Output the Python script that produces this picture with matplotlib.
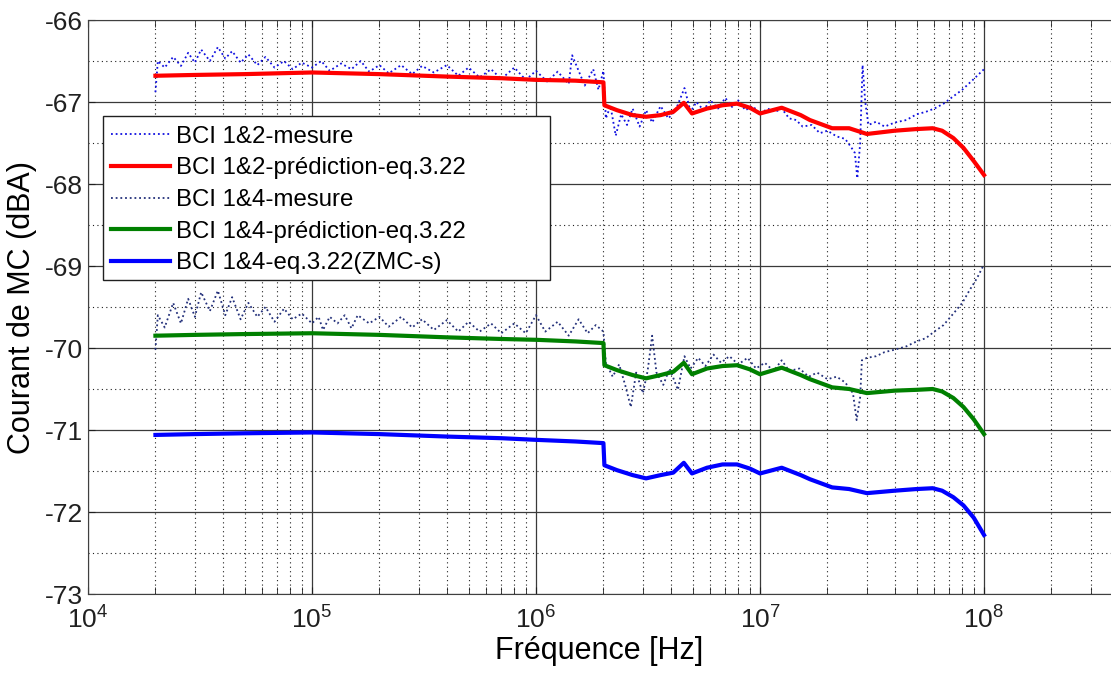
import matplotlib
matplotlib.use('Agg')
import matplotlib.pyplot as plt
from matplotlib.patches import Rectangle
from matplotlib.ticker import LogLocator, MultipleLocator, NullFormatter

plt.rcParams['font.family'] = ['Liberation Sans', 'DejaVu Sans']
plt.rcParams['mathtext.fontset'] = 'custom'
plt.rcParams['mathtext.rm'] = 'Liberation Sans'
plt.rcParams['axes.unicode_minus'] = False

# Measurement BCI 1&2 (Hz, dBA)
f_mes12 = [2.0e4, 2.05e4, 2.2e4, 2.4e4, 2.6e4, 2.8e4, 3.0e4, 3.2e4, 3.5e4, 3.8e4,
           4.1e4, 4.4e4, 4.8e4, 5.2e4, 5.7e4, 6.2e4, 6.8e4, 7.5e4, 8.2e4, 9.0e4,
           1.0e5, 1.1e5, 1.2e5, 1.35e5, 1.5e5, 1.65e5, 1.8e5, 2.0e5, 2.2e5, 2.5e5,
           2.8e5, 3.1e5, 3.5e5, 4.0e5, 4.5e5, 5.0e5, 5.6e5, 6.3e5, 7.0e5, 8.0e5,
           9.0e5, 1.0e6, 1.12e6, 1.25e6, 1.4e6, 1.45e6, 1.55e6, 1.65e6, 1.8e6, 1.9e6,
           2.0e6, 2.05e6, 2.15e6, 2.27e6, 2.4e6, 2.55e6, 2.7e6, 2.9e6, 3.1e6, 3.3e6,
           3.6e6, 3.9e6, 4.2e6, 4.6e6, 4.9e6, 5.2e6, 5.6e6, 6.0e6, 6.5e6, 7.0e6,
           7.5e6, 8.0e6, 8.6e6, 9.3e6, 1.0e7, 1.08e7, 1.17e7, 1.25e7, 1.35e7, 1.45e7,
           1.55e7, 1.7e7, 1.85e7, 2.0e7, 2.2e7, 2.4e7, 2.55e7, 2.65e7, 2.72e7, 2.8e7,
           2.87e7, 2.95e7, 3.05e7, 3.3e7, 3.6e7, 4.0e7, 4.5e7, 5.0e7, 5.5e7, 6.0e7,
           6.6e7, 7.3e7, 8.0e7, 9.0e7, 1.0e8]
v_mes12 = [-66.88, -66.50, -66.58, -66.45, -66.56, -66.40, -66.52, -66.36, -66.50, -66.33,
           -66.47, -66.38, -66.52, -66.42, -66.55, -66.45, -66.58, -66.50, -66.60, -66.52,
           -66.58, -66.50, -66.62, -66.53, -66.60, -66.50, -66.63, -66.55, -66.65, -66.55,
           -66.66, -66.56, -66.64, -66.55, -66.68, -66.58, -66.70, -66.60, -66.72, -66.58,
           -66.73, -66.62, -66.75, -66.63, -66.78, -66.43, -66.62, -66.80, -66.60, -66.85,
           -66.62, -67.20, -67.05, -67.41, -67.15, -67.28, -67.08, -67.30, -67.10, -67.25,
           -67.05, -67.20, -67.10, -66.83, -67.12, -67.00, -67.10, -66.98, -67.08, -66.95,
           -67.06, -66.98, -67.10, -67.05, -67.15, -67.08, -67.12, -67.08, -67.20, -67.22,
           -67.30, -67.28, -67.38, -67.35, -67.42, -67.45, -67.55, -67.62, -67.93, -67.50,
           -66.55, -67.00, -67.28, -67.24, -67.30, -67.25, -67.22, -67.15, -67.12, -67.08,
           -67.02, -66.93, -66.85, -66.72, -66.60]

# Measurement BCI 1&4
f_mes14 = [2.0e4, 2.05e4, 2.2e4, 2.4e4, 2.6e4, 2.8e4, 3.0e4, 3.2e4, 3.5e4, 3.8e4,
           4.1e4, 4.4e4, 4.8e4, 5.2e4, 5.7e4, 6.2e4, 6.8e4, 7.5e4, 8.2e4, 9.0e4,
           1.0e5, 1.07e5, 1.12e5, 1.2e5, 1.3e5, 1.4e5, 1.5e5, 1.6e5, 1.8e5, 2.0e5,
           2.2e5, 2.5e5, 2.8e5, 3.1e5, 3.5e5, 4.0e5, 4.5e5, 5.0e5, 5.6e5, 6.3e5,
           7.0e5, 8.0e5, 9.0e5, 1.0e6, 1.1e6, 1.25e6, 1.4e6, 1.55e6, 1.7e6, 1.85e6,
           2.0e6, 2.05e6, 2.2e6, 2.35e6, 2.5e6, 2.65e6, 2.8e6, 3.0e6, 3.15e6, 3.3e6,
           3.45e6, 3.7e6, 3.95e6, 4.3e6, 4.6e6, 4.9e6, 5.3e6, 5.7e6, 6.2e6, 6.7e6,
           7.3e6, 8.0e6, 8.8e6, 9.6e6, 1.05e7, 1.15e7, 1.25e7, 1.35e7, 1.5e7, 1.65e7,
           1.8e7, 2.0e7, 2.2e7, 2.4e7, 2.6e7, 2.7e7, 2.8e7, 2.85e7, 3.0e7, 3.3e7,
           3.6e7, 4.0e7, 4.5e7, 5.0e7, 5.5e7, 6.0e7, 6.6e7, 7.3e7, 8.0e7, 8.6e7,
           9.3e7, 1.0e8]
v_mes14 = [-70.02, -69.60, -69.75, -69.45, -69.70, -69.40, -69.62, -69.32, -69.55, -69.30,
           -69.60, -69.38, -69.65, -69.45, -69.62, -69.50, -69.68, -69.52, -69.65, -69.58,
           -69.70, -69.62, -69.78, -69.62, -69.70, -69.60, -69.76, -69.60, -69.70, -69.62,
           -69.74, -69.62, -69.75, -69.65, -69.78, -69.66, -69.80, -69.68, -69.80, -69.70,
           -69.82, -69.70, -69.82, -69.60, -69.80, -69.68, -69.85, -69.65, -69.82, -69.72,
           -69.80, -70.18, -70.35, -70.20, -70.45, -70.72, -70.30, -70.55, -70.28, -69.85,
           -70.30, -70.45, -70.25, -70.51, -70.10, -70.25, -70.12, -70.22, -70.08, -70.18,
           -70.10, -70.20, -70.12, -70.25, -70.18, -70.28, -70.15, -70.28, -70.25, -70.35,
           -70.30, -70.38, -70.35, -70.42, -70.55, -70.88, -70.60, -70.15, -70.12, -70.10,
           -70.05, -70.02, -69.98, -69.92, -69.88, -69.80, -69.72, -69.58, -69.45, -69.30,
           -69.15, -68.98]

# Predictions
f_pred = [2.0e4, 3.0e4, 5.0e4, 1.0e5, 2.0e5, 4.0e5, 7.0e5, 1.0e6, 1.5e6, 2.0e6,
          2.02e6, 2.3e6, 2.7e6, 3.1e6, 3.6e6, 4.1e6, 4.57e6, 4.97e6, 5.8e6, 6.8e6,
          7.9e6, 9.0e6, 1.0e7, 1.25e7, 1.52e7, 1.67e7, 2.1e7, 2.5e7, 3.0e7, 4.0e7,
          5.0e7, 5.9e7, 6.5e7, 7.3e7, 8.1e7, 9.0e7, 1.0e8]
v_pred12 = [-66.68, -66.67, -66.66, -66.64, -66.66, -66.69, -66.71, -66.73, -66.74, -66.76,
            -67.04, -67.10, -67.16, -67.18, -67.16, -67.12, -67.01, -67.14, -67.08, -67.04,
            -67.02, -67.07, -67.14, -67.07, -67.16, -67.22, -67.32, -67.32, -67.39, -67.35,
            -67.33, -67.32, -67.35, -67.44, -67.56, -67.72, -67.89]
v_pred14 = [-69.85, -69.84, -69.83, -69.82, -69.84, -69.87, -69.89, -69.90, -69.92, -69.94,
            -70.21, -70.27, -70.33, -70.37, -70.33, -70.29, -70.18, -70.32, -70.25, -70.22,
            -70.21, -70.26, -70.32, -70.24, -70.33, -70.38, -70.48, -70.50, -70.55, -70.52,
            -70.51, -70.50, -70.53, -70.61, -70.72, -70.87, -71.05]
v_zmc14 = [-71.06, -71.05, -71.04, -71.03, -71.05, -71.08, -71.10, -71.12, -71.14, -71.16,
           -71.43, -71.49, -71.55, -71.59, -71.55, -71.52, -71.40, -71.53, -71.46, -71.42,
           -71.42, -71.47, -71.53, -71.46, -71.55, -71.60, -71.70, -71.72, -71.77, -71.74,
           -71.72, -71.71, -71.74, -71.82, -71.92, -72.07, -72.28]

labels = ['BCI 1&2-mesure', 'BCI 1&2-prédiction-eq.3.22', 'BCI 1&4-mesure',
          'BCI 1&4-prédiction-eq.3.22', 'BCI 1&4-eq.3.22(ZMC-s)']

W, H = 1111, 673
fig = plt.figure(figsize=(W / 100, H / 100), dpi=100)
ax = fig.add_axes([88 / W, 1 - 594 / H, 1 - 88 / W, (594 - 20) / H])

dot = (0, (1, 1.6))
ax.plot(f_mes12, v_mes12, linestyle=dot, color='#1010e0', lw=1.3, label=labels[0])
ax.plot(f_mes14, v_mes14, linestyle=dot, color='#23307a', lw=1.3, label=labels[2])
ax.plot(f_pred, v_pred12, '-', color='#ff0000', lw=3, label=labels[1])
ax.plot(f_pred, v_pred14, '-', color='#008000', lw=3, label=labels[3])
ax.plot(f_pred, v_zmc14, '-', color='#0000ff', lw=3, label=labels[4])

ax.set_xscale('log')
ax.set_xlim(1e4, 10 ** (4 + (W - 88) / 224))
ax.set_ylim(-73, -66)
ax.yaxis.set_major_locator(MultipleLocator(1))
ax.yaxis.set_minor_locator(MultipleLocator(0.5))
ax.xaxis.set_major_locator(LogLocator(base=10, numticks=10))
ax.xaxis.set_minor_locator(LogLocator(base=10, subs=range(2, 10), numticks=20))
ax.xaxis.set_minor_formatter(NullFormatter())

ax.grid(which='major', color='#3a3a3a', lw=0.9, ls='-')
ax.grid(which='minor', color='#202020', lw=0.8, ls=(0, (1, 3)))
ax.set_axisbelow(True)

ax.tick_params(which='both', direction='in', top=True, right=False, length=5,
               labelsize=19, colors='#202020')
ax.tick_params(axis='y', which='minor', length=0)
ax.tick_params(axis='x', pad=9)
for s in ['left', 'bottom', 'top']:
    ax.spines[s].set_color('#404040')
ax.spines['right'].set_visible(False)

ax.set_xlabel('Fréquence [Hz]', fontsize=22, labelpad=2)
ax.set_ylabel('Courant de MC (dBA)', fontsize=22, labelpad=6)

# legend box (MATLAB style, wider than its text)
box = Rectangle((103 / W, 1 - 280 / H), (550 - 103) / W, (280 - 116) / H,
                transform=fig.transFigure, facecolor='white', edgecolor='#202020',
                lw=1.0, zorder=4.9, clip_on=False)
ax.add_patch(box)

h, l = ax.get_legend_handles_labels()
order = [0, 2, 1, 3, 4]
leg = ax.legend([h[i] for i in order], [l[i] for i in order], loc='upper left',
                bbox_to_anchor=(106 / W, 1 - 121 / H), bbox_transform=fig.transFigure,
                borderaxespad=0, fontsize=17.3, frameon=False, handlelength=2.45,
                handletextpad=0.28, labelspacing=0.4, borderpad=0.2)

fig.savefig('out.png', dpi=100)
